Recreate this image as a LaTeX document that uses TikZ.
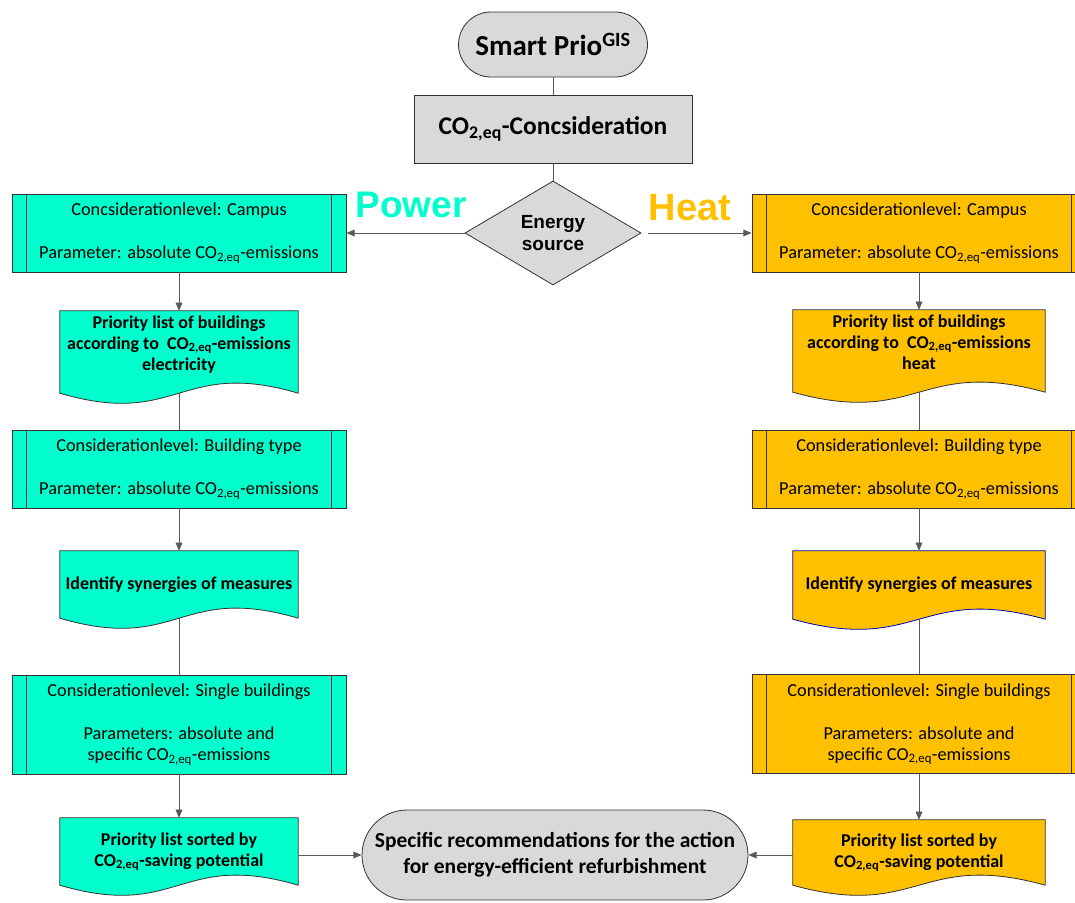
\documentclass[tikz,border=0pt]{standalone}
\usepackage{fontspec}
\setmainfont{Carlito}
\newfontfamily\arialfont{Liberation Sans}
\usepackage{tikz}
\usetikzlibrary{arrows,shapes.geometric,backgrounds}
\definecolor{powcol}{HTML}{00FFCC}
\definecolor{heatcol}{HTML}{FFC000}
\definecolor{boxgray}{HTML}{D9D9D9}
\definecolor{linegray}{HTML}{595959}
\newcommand{\cotwo}{CO\textsubscript{2,eq}}
% document shape with wavy bottom, drawn behind node #1
\newcommand{\docwave}[3]{%
  \filldraw[fill=#2,draw=#3,line width=0.8pt] (#1.north west) -- (#1.north east) -- (#1.south east)
    .. controls ([yshift=35pt]#1.south) and ([yshift=-35pt]#1.south) .. (#1.south west) -- cycle;}

\begin{document}
\begin{tikzpicture}[x=1pt,y=-1pt,>=triangle 45,
  every node/.style={inner sep=0pt,align=center},
  body/.style={font=\fontsize{18.3}{21}\selectfont},
  bold/.style={font=\fontsize{18}{21}\selectfont\bfseries},
  proc/.style={draw=black!80,line width=0.8pt,minimum width=334pt,body},
  docu/.style={bold},
  term/.style={draw=black!80,line width=0.8pt,fill=boxgray},
  conn/.style={draw=linegray,line width=0.9pt}]
  \useasboundingbox (0,0) rectangle (1075,902);
  \clip (0,0) rectangle (1075,902);

  % top
  \node[term,rounded corners=32.5pt,minimum width=189pt,minimum height=65pt,
    font=\fontsize{29}{32}\selectfont\bfseries] (prio) at (553,44.5) {Smart Prio\textsuperscript{GIS}};
  \node[term,minimum width=278pt,minimum height=68pt,font=\fontsize{25.5}{28}\selectfont\bfseries]
    (co) at (553,129) {\cotwo-Concsideration};
  \node[term,diamond,aspect=1.7,minimum width=176pt,minimum height=104pt,
    font=\arialfont\bfseries\fontsize{19}{22}\selectfont] (src) at (553,233) {Energy\\source};
  \node[text=powcol,font=\arialfont\bfseries\fontsize{37}{40}\selectfont] (pow) at (411,205) {Power};
  \node[text=heatcol,font=\arialfont\bfseries\fontsize{38}{40}\selectfont] (heat) at (690,208) {Heat};

  % power column
  \node[proc,fill=powcol,minimum height=78pt] (p1) at (179,233)
    {Concsiderationlevel: Campus\\[22pt]Parameter: absolute \cotwo-emissions};
  \node[docu,minimum width=238pt,minimum height=82pt] (p2) at (179,352)
    {Priority list of buildings\\according to \ \cotwo-emissions\\electricity\\[-3pt]};
  \node[proc,fill=powcol,minimum height=78pt] (p3) at (179,469)
    {Considerationlevel: Building type\\[22pt]Parameter: absolute \cotwo-emissions};
  \node[docu,minimum width=238pt,minimum height=67pt] (p4) at (179,584.5)
    {Identify synergies of measures};
  \node[proc,fill=powcol,minimum height=99pt] (p5) at (179,724.5)
    {Considerationlevel: Single buildings\\[22pt]Parameters: absolute and\\specific \cotwo-emissions};
  \node[docu,minimum width=238pt,minimum height=67pt] (p6) at (179,851.5)
    {Priority list sorted by\\\cotwo-saving potential};

  % heat column
  \node[proc,fill=heatcol,minimum height=78pt] (h1) at (919,233)
    {Concsiderationlevel: Campus\\[22pt]Parameter: absolute \cotwo-emissions};
  \node[docu,minimum width=252pt,minimum height=82pt] (h2) at (919,351)
    {Priority list of buildings\\according to \ \cotwo-emissions\\heat\\[-3pt]};
  \node[proc,fill=heatcol,minimum height=78pt] (h3) at (919,469)
    {Considerationlevel: Building type\\[22pt]Parameter: absolute \cotwo-emissions};
  \node[docu,minimum width=252pt,minimum height=68pt] (h4) at (919,585)
    {Identify synergies of measures};
  \node[proc,fill=heatcol,minimum height=99pt] (h5) at (919,724)
    {Considerationlevel: Single buildings\\[22pt]Parameters: absolute and\\specific \cotwo-emissions};
  \node[docu,minimum width=252pt,minimum height=65pt] (h6) at (919,852.5)
    {Priority list sorted by\\\cotwo-saving potential};

  % result
  \node[term,rounded corners=45pt,minimum width=386pt,minimum height=90pt,
    font=\fontsize{21.5}{26}\selectfont\bfseries] (reco) at (555,855)
    {Specific recommendations for the action\\for energy-efficient refurbishment};

  % inner lines of the process boxes
  \foreach \n in {p1,p3,p5,h1,h3,h5}
  {
    \draw[draw=black!80,line width=0.8pt] ([xshift=15pt]\n.north west) -- ([xshift=15pt]\n.south west);
    \draw[draw=black!80,line width=0.8pt] ([xshift=-15pt]\n.north east) -- ([xshift=-15pt]\n.south east);
  }
  \begin{scope}[on background layer]
    \docwave{p2}{powcol}{black!80}
    \docwave{p4}{powcol}{black!80}
    \docwave{p6}{powcol}{black!80}
    \docwave{h2}{heatcol}{black!80}
    \docwave{h4}{heatcol}{blue!70!black}
    \docwave{h6}{heatcol}{black!80}
  \end{scope}

  % connectors
  \draw[conn] (prio) -- (co);
  \draw[conn] (co) -- (src);
  \draw[conn,->] (src.west) -- (p1.east);
  \draw[conn,->] ([xshift=7pt]src.east) -- (h1.west);
  \foreach \c in {p,h}
  {
    \draw[conn,->] (\c1) -- (\c2.north);
    \draw[conn] (\c2.south) -- (\c3);
    \draw[conn,->] (\c3) -- (\c4.north);
    \draw[conn] (\c4.south) -- (\c5);
    \draw[conn,->] (\c5) -- (\c6.north);
  }
  \draw[conn,->] (p6.east |- reco.west) -- (reco.west);
  \draw[conn,->] (h6.west |- reco.east) -- (reco.east);
\end{tikzpicture}
\end{document}
